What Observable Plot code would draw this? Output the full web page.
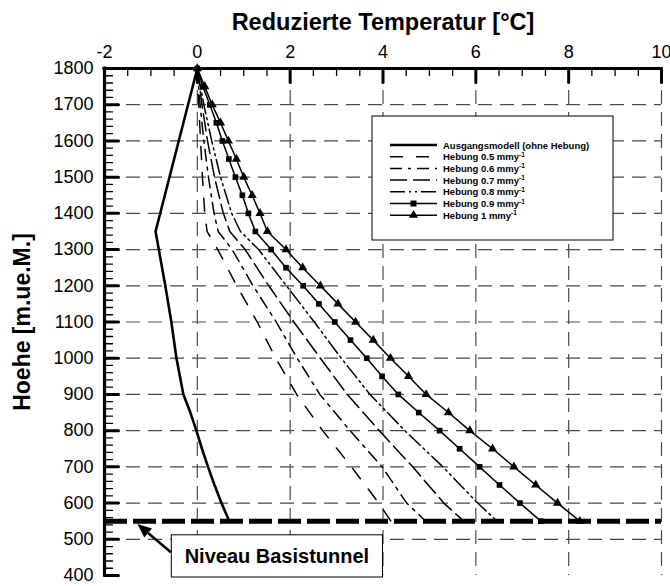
<!DOCTYPE html>
<html><head><meta charset="utf-8">
<script src="https://cdn.jsdelivr.net/npm/d3@7"></script>
<script src="https://cdn.jsdelivr.net/npm/@observablehq/plot@0.6"></script>
<style>
body{margin:0;background:#fff;}
#chart{width:670px;height:586px;}
</style></head><body><div id="chart"></div>
<script>
// ---------------- data ----------------
const xTicks = [-2, 0, 2, 4, 6, 8, 10];
const yTicks = [400, 500, 600, 700, 800, 900, 1000, 1100, 1200, 1300, 1400, 1500, 1600, 1700, 1800];
const basistunnel = 550;

const heightsFine = [1800,1750,1700,1650,1600,1550,1500,1450,1400,1350,1300,1250,1200,1150,1100,1050,1000,950,900,850,800,750,700,650,600,550];
const hebung10 = [0,0.16,0.32,0.50,0.67,0.84,1.00,1.18,1.35,1.51,1.91,2.27,2.65,3.03,3.41,3.79,4.16,4.55,4.93,5.41,5.87,6.36,6.82,7.29,7.76,8.24];
const hebung09 = [0,0.12,0.27,0.41,0.54,0.68,0.82,0.97,1.10,1.25,1.59,1.91,2.28,2.62,2.96,3.30,3.65,3.98,4.33,4.77,5.22,5.65,6.08,6.51,6.95,7.40];

const heightsCoarse = [1800,1700,1600,1500,1400,1350,1300,1200,1100,1000,900,800,700,600,550];
const hebung08 = [0,0.14,0.31,0.50,0.74,0.93,1.32,1.92,2.52,3.10,3.72,4.47,5.29,6.04,6.46];
const hebung07 = [0,0.10,0.22,0.37,0.56,0.70,1.03,1.54,2.08,2.65,3.23,3.92,4.64,5.31,5.74];
const hebung06 = [0,0.06,0.14,0.24,0.36,0.45,0.75,1.20,1.70,2.15,2.64,3.29,3.98,4.51,4.92];
const hebung05 = [0,0.03,0.07,0.11,0.16,0.21,0.44,0.85,1.29,1.69,2.14,2.70,3.32,3.91,4.17];

const heightsBase = [1800,1350,1300,1200,1100,1000,900,850,800,750,700,650,600,550];
const ausgang = [0,-0.90,-0.83,-0.69,-0.56,-0.45,-0.30,-0.15,-0.02,0.10,0.23,0.37,0.52,0.69];

const seriesNames = ["Ausgangsmodell (ohne Hebung)","Hebung 0.5 mmy","Hebung 0.6 mmy","Hebung 0.7 mmy","Hebung 0.8 mmy","Hebung 0.9 mmy","Hebung 1 mmy"];
const titleText = "Reduzierte Temperatur [°C]";
const yLabelText = "Hoehe [m.ue.M.]";
const annotText = "Niveau Basistunnel";

// ---------------- build ----------------
const series = [
  {name: seriesNames[0], h: heightsBase, t: ausgang},
  {name: seriesNames[1], h: heightsCoarse, t: hebung05},
  {name: seriesNames[2], h: heightsCoarse, t: hebung06},
  {name: seriesNames[3], h: heightsCoarse, t: hebung07},
  {name: seriesNames[4], h: heightsCoarse, t: hebung08},
  {name: seriesNames[5], h: heightsFine, t: hebung09},
  {name: seriesNames[6], h: heightsFine, t: hebung10}
];
const styles = [
  {width: 2.6, dash: null, symbol: null, sup: false},
  {width: 1.5, dash: "13,13", symbol: null, sup: true},
  {width: 1.5, dash: "12,6,3,6", symbol: null, sup: true},
  {width: 1.5, dash: "17,6", symbol: null, sup: true},
  {width: 1.5, dash: "15,4,2,4,2,4", symbol: null, sup: true},
  {width: 1.5, dash: null, symbol: "square", r: 3.2, sup: true},
  {width: 1.5, dash: null, symbol: "triangle", r: 3.4, sup: true}
];
const tables = series.map(s => s.h.map((h, i) => ({h, t: s.t[i]})));

const FONT = "'Liberation Sans', Arial, Helvetica, sans-serif";
const xDomain = [xTicks[0], xTicks[xTicks.length - 1]];
const yDomain = [yTicks[0], yTicks[yTicks.length - 1]];
const xMinor = d3.range(xDomain[0], xDomain[1] + 1e-9, 0.5).filter(v => !xTicks.includes(v));
const yMinor = d3.range(yDomain[0], yDomain[1] + 1e-9, 20).filter(v => !yTicks.includes(v));
const tickShape = {draw(ctx, l) { ctx.moveTo(0, 0); ctx.lineTo(0, -l); }};
const gridStyle = {stroke: "#4a4a4a", strokeWidth: 1.2, strokeDasharray: "14,8"};

const marks = [
  Plot.ruleY(yTicks.filter(v => v > yDomain[0] && v < yDomain[1]), gridStyle),
  Plot.ruleX(xTicks.filter(v => v > xDomain[0]), gridStyle),
  Plot.vector(xMinor, {x: d => d, frameAnchor: "top", rotate: 180, length: 7, anchor: "start", shape: tickShape, strokeWidth: 1.3, stroke: "black"}),
  Plot.vector(xTicks, {x: d => d, frameAnchor: "top", rotate: 180, length: 14, anchor: "start", shape: tickShape, strokeWidth: 3, stroke: "black"}),
  Plot.vector(yMinor, {y: d => d, frameAnchor: "left", rotate: 90, length: 8, anchor: "start", shape: tickShape, strokeWidth: 1.3, stroke: "black"}),
  Plot.vector(yTicks, {y: d => d, frameAnchor: "left", rotate: 90, length: 14, anchor: "start", shape: tickShape, strokeWidth: 3, stroke: "black"}),
  Plot.ruleY([yDomain[1]], {stroke: "black", strokeWidth: 3.2, strokeLinecap: "square"}),
  Plot.ruleX([xDomain[0]], {stroke: "black", strokeWidth: 3.2, strokeLinecap: "square"}),
  Plot.axisX(xTicks, {anchor: "top", tickSize: 0, tickPadding: 11, fontSize: 18, label: null, tickFormat: d => String(d)}),
  Plot.axisY(yTicks, {anchor: "left", tickSize: 0, tickPadding: 11, fontSize: 18, label: null, tickFormat: d => String(d)}),
  Plot.ruleY([basistunnel], {stroke: "black", strokeWidth: 5, strokeDasharray: "23,6"})
];
tables.forEach((tb, i) => {
  const st = styles[i];
  marks.push(Plot.line(tb, {x: "t", y: "h", stroke: "black", strokeWidth: st.width, strokeDasharray: st.dash ?? undefined, curve: "linear"}));
  if (st.symbol) marks.push(Plot.dot(tb, {x: "t", y: "h", symbol: st.symbol, r: st.r, fill: "black", stroke: "none"}));
});
marks.push(Plot.text([titleText], {frameAnchor: "top", lineAnchor: "middle", textAnchor: "middle", dy: -46, fontSize: 23.5, fontWeight: "bold", fill: "black"}));
marks.push(Plot.text([yLabelText], {frameAnchor: "left", lineAnchor: "middle", textAnchor: "middle", dx: -82, rotate: -90, fontSize: 23, fontWeight: "bold", fill: "black"}));

const chart = Plot.plot({
  width: 670, height: 586,
  marginTop: 68, marginLeft: 104, marginRight: 9, marginBottom: 11,
  x: {domain: xDomain},
  y: {domain: yDomain},
  style: {fontFamily: FONT, background: "white", color: "black", overflow: "visible"},
  marks
});
document.getElementById("chart").append(chart);

// ---------------- overlays: legend & annotation ----------------
const svg = d3.select(chart);
const sx = chart.scale("x"), sy = chart.scale("y");

const lg = svg.append("g").attr("font-family", FONT).attr("text-anchor", "start");
const LX = 372, LY = 116, LW = 241, LH = 124;
lg.append("rect").attr("x", LX).attr("y", LY).attr("width", LW).attr("height", LH)
  .attr("fill", "white").attr("stroke", "black").attr("stroke-width", 1);
seriesNames.forEach((name, i) => {
  const st = styles[i];
  const yy = LY + 29 + i * 11.7;
  lg.append("line").attr("x1", LX + 18).attr("x2", LX + 65).attr("y1", yy).attr("y2", yy)
    .attr("stroke", "black").attr("stroke-width", st.width).attr("stroke-dasharray", st.dash);
  if (st.symbol === "square") lg.append("rect").attr("x", LX + 41.5 - 3).attr("y", yy - 3).attr("width", 6).attr("height", 6);
  if (st.symbol === "triangle") lg.append("path").attr("d", d3.symbol(d3.symbolTriangle, 36)()).attr("transform", `translate(${LX + 41.5},${yy})`);
  const tx = lg.append("text").attr("x", LX + 71).attr("y", yy + 3.5).attr("text-anchor", "start")
    .attr("font-size", 9.5).attr("font-weight", "bold").text(name);
  if (st.sup) tx.append("tspan").attr("dy", -3.5).attr("font-size", 6.5).text("-1");
});

const ag = svg.append("g").attr("font-family", FONT);
const bx0 = sx.apply(-0.55), bx1 = sx.apply(4), by0 = sy.apply(511), by1 = sy.apply(yDomain[0]) + 2;
ag.append("rect").attr("x", bx0).attr("y", by0).attr("width", bx1 - bx0).attr("height", by1 - by0)
  .attr("fill", "white").attr("stroke", "black").attr("stroke-width", 1);
ag.append("text").attr("x", (bx0 + bx1) / 2).attr("y", (by0 + by1) / 2 + 7).attr("text-anchor", "middle")
  .attr("font-size", 20).attr("font-weight", "bold").text(annotText);
const ax0 = sx.apply(-0.56), ay0 = sy.apply(463), ax1 = sx.apply(-1.28), ay1 = sy.apply(541);
const ang = Math.atan2(ay1 - ay0, ax1 - ax0);
const hl = 14, hw = 6;
const bxh = ax1 - hl * Math.cos(ang), byh = ay1 - hl * Math.sin(ang);
ag.append("line").attr("x1", ax0).attr("y1", ay0).attr("x2", bxh).attr("y2", byh).attr("stroke", "black").attr("stroke-width", 2.5);
ag.append("path").attr("d", `M${ax1},${ay1}L${bxh + hw * Math.sin(ang)},${byh - hw * Math.cos(ang)}L${bxh - hw * Math.sin(ang)},${byh + hw * Math.cos(ang)}Z`).attr("fill", "black");
</script>
</body></html>
